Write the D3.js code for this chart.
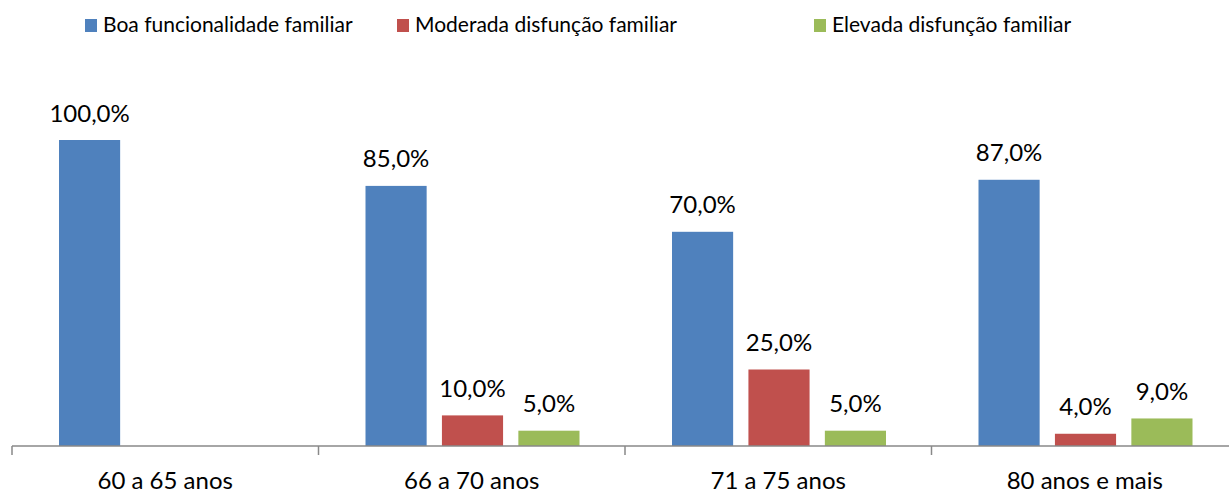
<!DOCTYPE html>
<html><head><meta charset="utf-8">
<script src="https://cdn.jsdelivr.net/npm/d3@7"></script>
<style>body{margin:0;background:#fff}svg{display:block}text{font-family:Lato,"Noto Sans",sans-serif;fill:#000}</style>
</head><body>
<svg id="c" width="1229" height="494"></svg>
<script>
const categories = ["60 a 65 anos", "66 a 70 anos", "71 a 75 anos", "80 anos e mais"];
const seriesNames = ["Boa funcionalidade familiar", "Moderada disfunção familiar", "Elevada disfunção familiar"];
const seriesColors = ["#4F81BD", "#C0504D", "#9BBB59"];
const boa = [100, 85, 70, 87];
const moderada = [null, 10, 25, 4];
const elevada = [null, 5, 5, 9];
const seriesValues = [boa, moderada, elevada];

const svg = d3.select("#c");
const x = d3.scaleBand().domain(categories).range([12, 1238]).padding(0);
const xi = d3.scaleBand().domain(seriesNames).range([47, 261]).paddingInner(0.2).paddingOuter(0);
const y = d3.scaleLinear().domain([0, 100]).range([446, 140]);

const fmt = v => d3.format(".1f")(v).replace(".", ",") + "%";

seriesNames.forEach((s, si) => {
  const data = categories.map((c, ci) => ({c, v: seriesValues[si][ci]})).filter(d => d.v != null);
  const g = svg.append("g");
  g.selectAll("rect").data(data).join("rect")
    .attr("x", d => x(d.c) + xi(s))
    .attr("y", d => y(d.v))
    .attr("width", xi.bandwidth())
    .attr("height", d => y(0) - y(d.v))
    .attr("fill", seriesColors[si]);
  g.selectAll("text").data(data).join("text")
    .attr("x", d => x(d.c) + xi(s) + xi.bandwidth() / 2)
    .attr("y", d => y(d.v) - 18.5)
    .attr("text-anchor", "middle")
    .style("font-size", "24px")
    .text(d => fmt(d.v));
});

// axis
const ax = svg.append("g").attr("transform", "translate(0,446)");
ax.append("line").attr("x1", 12).attr("x2", 1229).attr("y1", 0).attr("y2", 0).attr("stroke", "#898989").attr("stroke-width", 1.5);
ax.selectAll("line.t").data(categories.concat(["end"])).join("line").attr("class", "t")
  .attr("x1", (d, i) => i < categories.length ? x(d) : x.range()[1])
  .attr("x2", (d, i) => i < categories.length ? x(d) : x.range()[1])
  .attr("y1", 0).attr("y2", 9).attr("stroke", "#898989").attr("stroke-width", 1.5);
ax.selectAll("text").data(categories).join("text")
  .attr("x", d => x(d) + x.bandwidth() / 2)
  .attr("y", 43)
  .attr("text-anchor", "middle")
  .style("font-size", "24px")
  .text(d => d);

// legend
const legX = [85, 397, 814];
const lg = svg.append("g");
seriesNames.forEach((s, i) => {
  lg.append("rect").attr("x", legX[i]).attr("y", 19).attr("width", 12).attr("height", 13).attr("fill", seriesColors[i]);
  lg.append("text").attr("x", legX[i] + 18).attr("y", 32).style("font-size", "21px").text(s);
});
</script>
</body></html>
